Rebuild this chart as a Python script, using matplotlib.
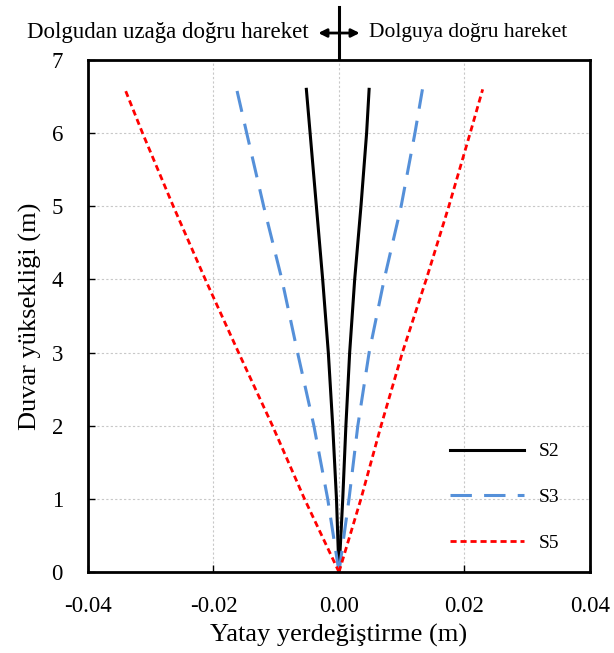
import matplotlib.pyplot as plt
import numpy as np

plt.rcParams['font.family'] = ['Liberation Serif', 'DejaVu Serif']

# heights (m) and displacements (m), left and right branches
h = [0, 1, 2, 3, 4, 5, 6, 6.6]
s2_left = [0, -0.0004, -0.0010, -0.0017, -0.0026, -0.0036, -0.0046, -0.0052]
s2_right = [0, 0.0006, 0.0011, 0.0017, 0.0025, 0.0035, 0.0044, 0.0048]
s3_left = [0, -0.0018, -0.0040, -0.0066, -0.0091, -0.0120, -0.0147, -0.0163]
s3_right = [0, 0.0016, 0.0030, 0.0048, 0.0072, 0.0099, 0.0121, 0.0133]
s5_left = [0, -0.0055, -0.0106, -0.0160, -0.0213, -0.0264, -0.0313, -0.0341]
s5_right = [0, 0.0035, 0.0067, 0.0101, 0.0139, 0.0175, 0.0209, 0.0229]

xticks = [-0.04, -0.02, 0.00, 0.02, 0.04]
yticks = [0, 1, 2, 3, 4, 5, 6, 7]

fig = plt.figure(figsize=(6.14, 6.53), dpi=100)
ax = fig.add_axes([0.1433, 0.124, 0.8176, 0.784])

blue = '#5590D9'
ax.plot(s2_left, h, color='k', lw=2.2, label='S2')
ax.plot(s2_right, h, color='k', lw=2.2)
ax.plot(s3_left, h, color=blue, lw=2.2, dashes=(7, 4), label='S3')
ax.plot(s3_right, h, color=blue, lw=2.2, dashes=(7, 4))
ax.plot(s5_left, h, color='red', lw=2.0, dashes=(2.2, 1.4), label='S5')
ax.plot(s5_right, h, color='red', lw=2.0, dashes=(2.2, 1.4))

ax.set_xlim(-0.04, 0.04)
ax.set_ylim(0, 7)
ax.set_xticks(xticks)
ax.set_xticklabels(['%.2f' % v for v in xticks])
ax.set_yticks(yticks)
ax.grid(True, color='#c8c8c8', lw=0.8, ls=(0, (2, 2)))
ax.tick_params(direction='in', length=5, width=1, labelsize=16.5)
ax.tick_params(axis='x', pad=17)
ax.tick_params(axis='y', pad=18)
for sp in ax.spines.values():
    sp.set_linewidth(2)

ax.set_xlabel('Yatay yerdeğiştirme (m)', fontsize=19, labelpad=5)
ax.set_ylabel('Duvar yüksekliği (m)', fontsize=19, labelpad=7)

leg = ax.legend(loc='lower right', frameon=False, fontsize=14, handlelength=3.8,
                labelspacing=1.45, bbox_to_anchor=(0.975, 0.005))

# top annotation: direction of movement
ax.plot([0, 0], [7.03, 7.72], color='k', lw=2.2, clip_on=False)
ax.annotate('', xy=(-0.0033, 7.37), xytext=(0.0033, 7.37),
            arrowprops=dict(arrowstyle='<|-|>', color='k', lw=2,
                            mutation_scale=12, shrinkA=0, shrinkB=0),
            annotation_clip=False)
ax.text(-0.0048, 7.38, 'Dolgudan uzağa doğru hareket', ha='right', va='center',
        fontsize=16.5)
ax.text(0.0048, 7.38, 'Dolguya doğru hareket', ha='left', va='center',
        fontsize=15.5)

fig.savefig('out.png', dpi=100)
